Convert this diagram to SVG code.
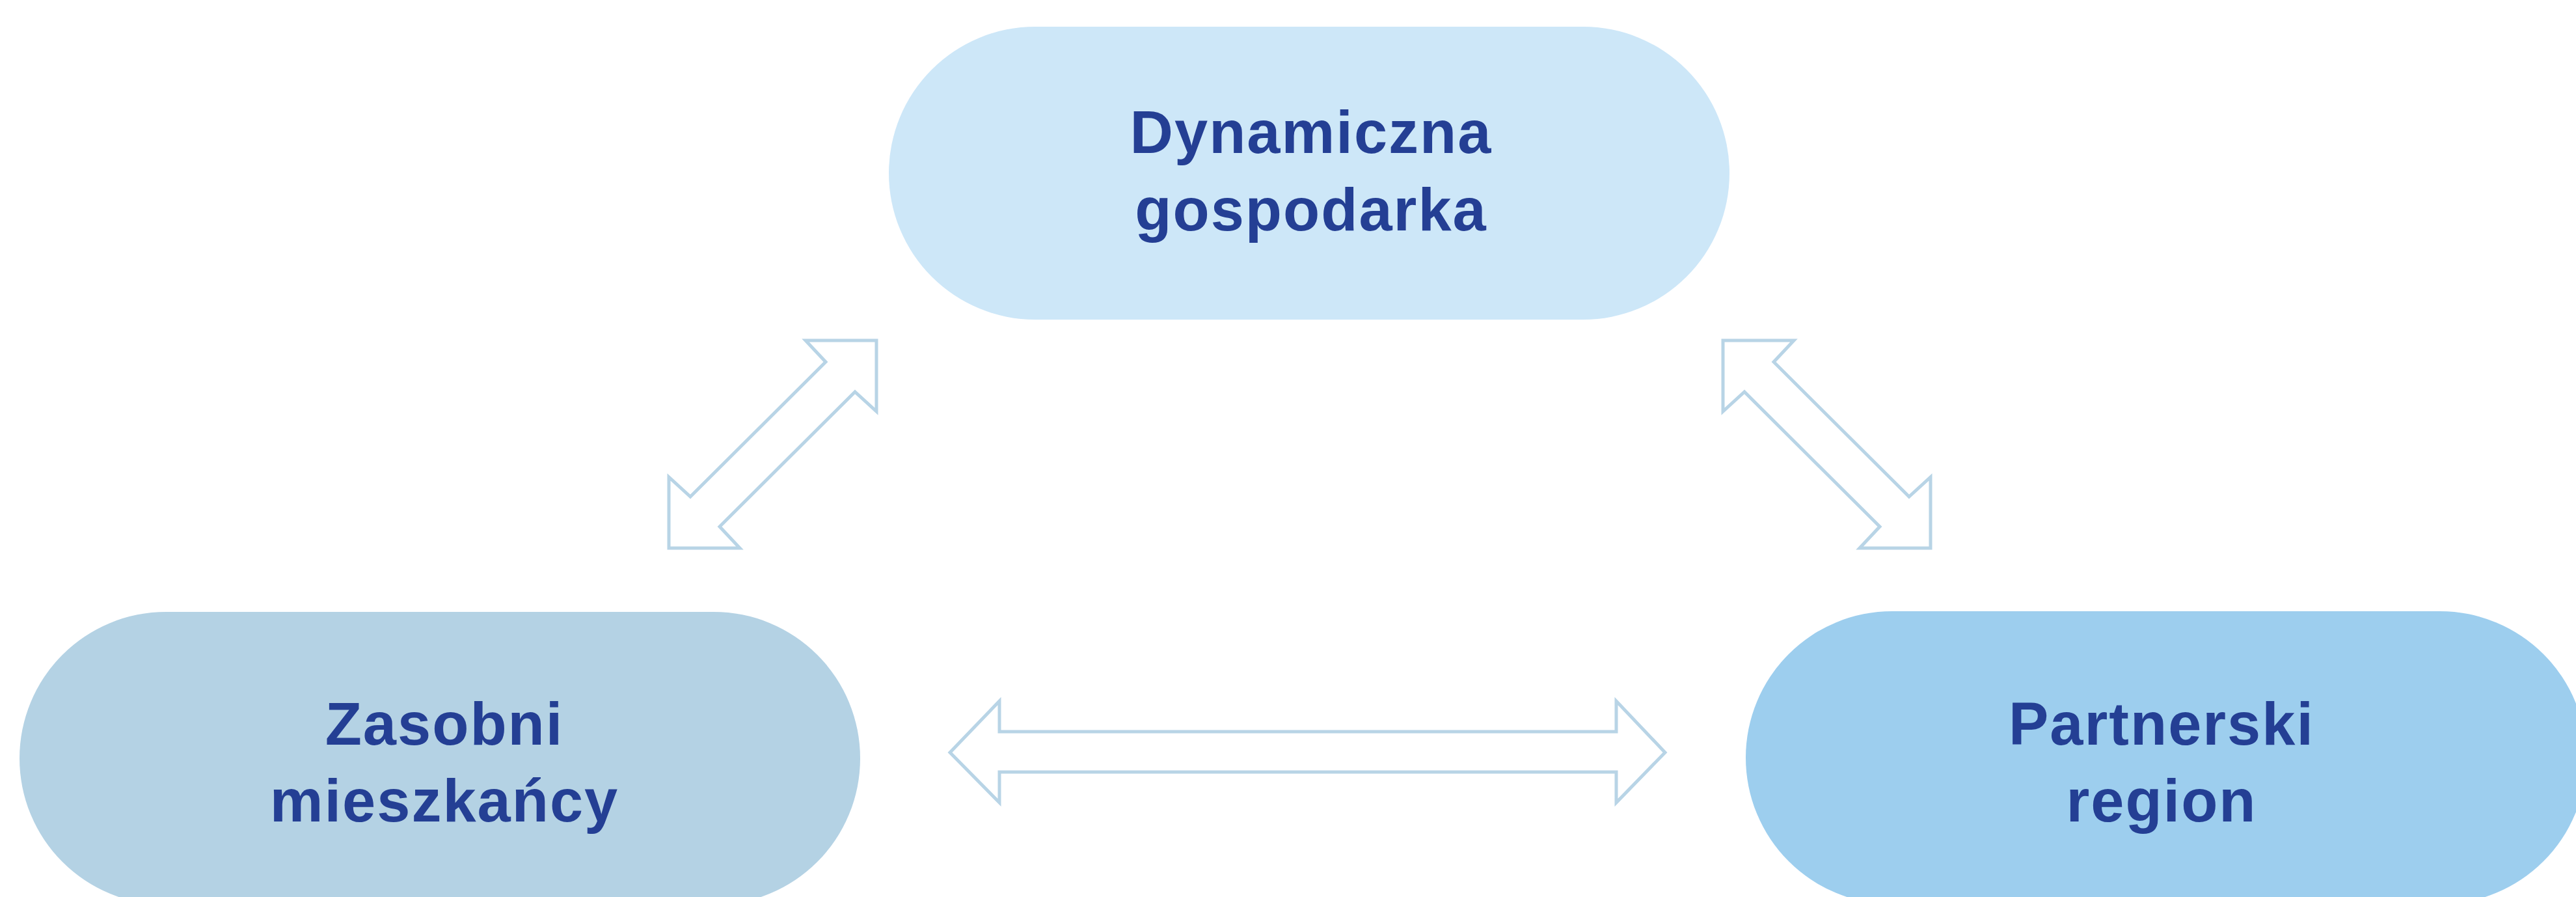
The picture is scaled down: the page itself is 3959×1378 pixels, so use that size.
<svg xmlns="http://www.w3.org/2000/svg" width="3959" height="1378" viewBox="0 0 3959 1378">
<style>
.lbl{font-family:"Liberation Sans",Arial,sans-serif;font-weight:bold;font-size:92px;fill:#243F94;text-anchor:middle;letter-spacing:2px}
.arr{fill:#FFFFFF;stroke:#B8D4E6;stroke-width:5;stroke-linejoin:miter}
</style>
<rect width="3959" height="1378" fill="#FFFFFF"/>
<g id="connectors">
<polygon class="arr" points="1347,523 1238,523 1269,556 1061,763 1028,733 1028,842 1137,842 1106,809 1314,602 1347,632"/>
<polygon class="arr" points="2648,523 2757,523 2726,556 2934,763 2967,733 2967,842 2858,842 2889,809 2681,602 2648,632"/>
<polygon class="arr" points="1460,1156 1536,1077 1536,1124 2484,1124 2484,1077 2559,1156 2484,1233 2484,1186 1536,1186 1536,1233"/>
</g>
<g id="node-top">
<rect x="1366" y="41" width="1292" height="450" rx="225" ry="225" fill="#CDE7F8"/>
<text class="lbl" x="2015" y="235">Dynamiczna</text>
<text class="lbl" x="2015" y="354">gospodarka</text>
</g>
<g id="node-left">
<rect x="30" y="940" width="1292" height="450" rx="225" ry="225" fill="#B4D2E4"/>
<text class="lbl" x="683" y="1144">Zasobni</text>
<text class="lbl" x="683" y="1262">mieszkańcy</text>
</g>
<g id="node-right">
<rect x="2683" y="939" width="1292" height="450" rx="225" ry="225" fill="#9DCEEE"/>
<text class="lbl" x="3322" y="1144">Partnerski</text>
<text class="lbl" x="3322" y="1262">region</text>
</g>
</svg>
